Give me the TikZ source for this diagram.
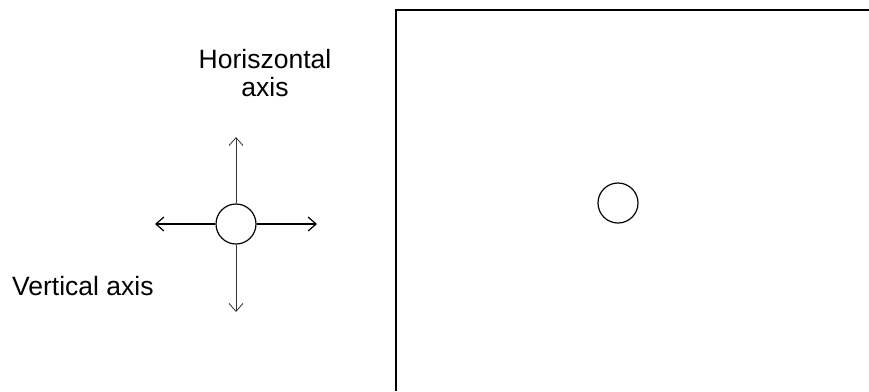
\documentclass[tikz,border=0pt]{standalone}
\usepackage{fontspec}
\setmainfont{Liberation Sans}
\usetikzlibrary{positioning,arrows.meta}
\tikzset{
    ring/.style={shape=circle,draw=black,line width=1.2pt,minimum size=40bp,inner sep=0},
    axis arrow/.style={-{Straight Barb[length=8bp,width=14bp]},line width=1.2bp},
    thin axis/.style={axis arrow,line width=0.8bp,draw=black!80},
    frame/.style={draw=black,line width=1.6bp},
    label text/.style={font=\fontsize{26.5bp}{28bp}\selectfont,align=center,inner sep=0}
}

\begin{document}
\begin{tikzpicture}[x=1bp,y=-1bp]
    \useasboundingbox (0,0) rectangle (869,391);
    % the ball with its two axes
    \node[ring] (c0) at (236,224) {};
    \coordinate (up) at (236,137);
    \coordinate (down) at (236,312);
    \coordinate (left) at (155,224);
    \coordinate (right) at (317,224);

    \draw[thin axis] (c0) -- (up);
    \draw[thin axis] (c0) -- (down);
    \draw[axis arrow] (c0) -- (left);
    \draw[axis arrow] (c0) -- (right);

    \node[label text, anchor=north] (hlab) at (265,49) {Horiszontal\\axis};
    \node[label text, anchor=base west] (vlab) at (12,295) {Vertical axis};

    % the field
    \coordinate (f0) at (396,391);
    \coordinate (f1) at (396,10);
    \coordinate (f2) at (869,10);
    \draw[frame] (f0) -- (f1) -- (f2);
    \node[ring] (c1) at (618,203) {};
\end{tikzpicture}
\end{document}
